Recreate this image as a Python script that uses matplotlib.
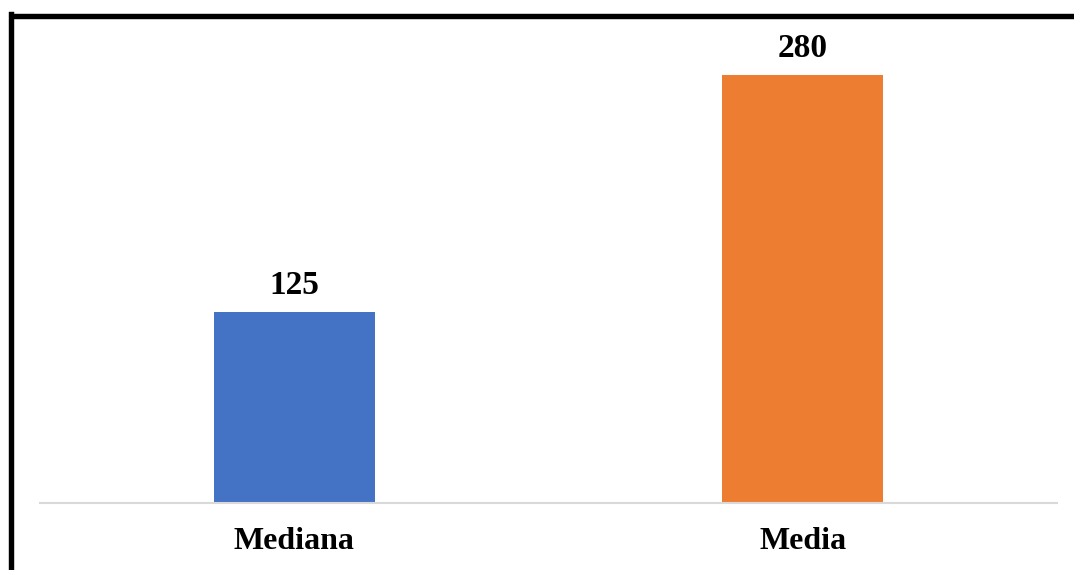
import matplotlib.pyplot as plt
from matplotlib.lines import Line2D

categories = ['Mediana', 'Media']
values = [125, 280]
colors = ['#4472C4', '#ED7D31']

W, H = 1074, 570
fig = plt.figure(figsize=(W / 100, H / 100), dpi=100)
ax = fig.add_axes([40 / W, (H - 503) / H, 1017 / W, 473 / H])

bars = ax.bar(range(len(values)), values, width=0.317, color=colors)
ax.set_xlim(-0.5, 1.5)
ax.set_ylim(0, 309.4)

for rect, v in zip(bars, values):
    ax.annotate(str(v), (rect.get_x() + rect.get_width() / 2, v),
                xytext=(0, 8), textcoords='offset points', ha='center', va='bottom',
                fontsize=24, fontweight='bold', family='Liberation Serif')

ax.set_xticks(range(len(categories)))
ax.set_xticklabels(categories, fontsize=23, fontweight='bold', family='Liberation Serif')
ax.tick_params(axis='x', length=0, pad=17)
ax.set_yticks([])
for side in ['left', 'right', 'top']:
    ax.spines[side].set_visible(False)
ax.spines['bottom'].set_color('#d9d9d9')
ax.spines['bottom'].set_linewidth(1.5)

# outer frame, open on the right and bottom
fig.add_artist(Line2D([10.5 / W, 10.5 / W], [0, 1 - 13.5 / H], color='black', lw=3.9,
                      solid_capstyle='projecting', transform=fig.transFigure))
fig.add_artist(Line2D([10.5 / W, 1], [1 - 16 / H, 1 - 16 / H], color='black', lw=3.9,
                      solid_capstyle='butt', transform=fig.transFigure))

fig.savefig('out.png', dpi=100, facecolor='white')
